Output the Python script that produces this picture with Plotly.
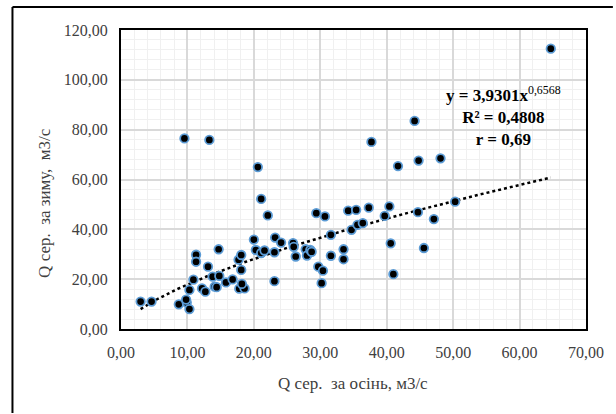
import numpy as np
import plotly.graph_objects as go

# Average discharge: autumn (x) vs winter (y), m3/s
q_autumn = [2.95, 4.6, 8.7, 9.9, 10.3, 9.8, 9.55, 13.3, 10.3, 10.9,
            11.3, 11.3, 12.2, 12.7, 13.1, 13.8, 14.8, 14.1, 14.4, 14.7,
            15.8, 16.8, 17.7, 18.1, 18.1, 17.8, 18.6, 18.2, 20.0, 20.3,
            20.6, 21.1, 21.1, 21.6, 22.1, 23.1, 23.1, 23.2, 24.1, 25.9,
            26.0, 26.3, 27.8, 28.0, 28.5, 28.7, 29.4, 29.7, 30.4, 30.2,
            30.7, 31.6, 31.6, 33.5, 33.5, 34.2, 34.7, 35.4, 35.6, 36.4,
            37.3, 37.7, 39.7, 40.4, 40.6, 41.0, 41.7, 44.2, 44.7, 44.8,
            45.6, 47.1, 48.1, 50.3, 64.7]
q_winter = [11.0, 11.0, 9.9, 10.6, 8.0, 11.8, 76.5, 75.9, 15.7, 19.8,
            29.8, 27.0, 16.3, 15.0, 25.0, 21.0, 21.3, 17.0, 16.8, 32.0,
            18.7, 19.9, 27.8, 29.7, 23.7, 16.2, 16.3, 18.1, 35.9, 31.7,
            65.0, 52.2, 30.5, 31.5, 45.6, 19.2, 30.8, 36.7, 34.7, 34.5,
            33.0, 29.1, 32.0, 29.5, 31.7, 31.0, 46.5, 25.0, 23.4, 18.4,
            45.2, 37.8, 29.4, 32.0, 28.0, 47.5, 39.8, 47.8, 41.8, 42.5,
            48.7, 75.1, 45.4, 49.2, 34.4, 22.0, 65.4, 83.5, 46.9, 67.6,
            32.5, 44.1, 68.5, 51.1, 112.5]

# Power trend y = a * x^b
coef_a = 3.9301
coef_b = 0.6568
r_squared = 0.4808
r_corr = 0.69

W, H = 616, 414
L, R, T, B = 121, 588, 30, 329  # plot area in pixels

def px_x(p):
    return (p - L) / (R - L)

def px_y(p):
    return (B - p) / (B - T)

fig = go.Figure()

trend_x = np.linspace(min(q_autumn), max(q_autumn), 200)
trend_y = coef_a * trend_x ** coef_b
fig.add_trace(go.Scatter(
    x=trend_x, y=trend_y, mode="lines",
    line=dict(color="black", width=2.5, dash="dot"),
    hoverinfo="skip", showlegend=False,
))

fig.add_trace(go.Scatter(
    x=q_autumn, y=q_winter, mode="markers",
    marker=dict(size=8.5, color="black",
                line=dict(color="#5b9bd5", width=1.8)),
    showlegend=False,
))

def fmt(v, d):
    return f"{v:.{d}f}".replace(".", ",")

eq_text = (f"<b>y = {fmt(coef_a, 4)}x</b><sup>{fmt(coef_b, 4)}</sup><br>"
           f"<b>R² = {fmt(r_squared, 4)}</b><br>"
           f"<b>r = {fmt(r_corr, 2)}</b>")

SERIF = "Times New Roman, Liberation Serif, DejaVu Serif, serif"
tick_font = dict(family=SERIF, size=16, color="#404040")
title_font = dict(family=SERIF, size=17, color="#404040")

fig.update_layout(
    width=W, height=H,
    margin=dict(l=L, r=W - R, t=T, b=H - B, pad=0),
    paper_bgcolor="white", plot_bgcolor="white",
    separators=", ",
    font=dict(family=SERIF),
    xaxis=dict(
        range=[0, 70], dtick=10, tickformat=".2f",
        showgrid=True, gridcolor="#d9d9d9", gridwidth=1.5,
        minor=dict(dtick=2, showgrid=True, gridcolor="#f0f0f0", gridwidth=1),
        showline=True, linecolor="black", linewidth=2, mirror=True,
        zeroline=False, ticks="", tickfont=tick_font, ticklabelstandoff=8,
    ),
    yaxis=dict(
        range=[0, 120], dtick=20, tickformat=".2f",
        showgrid=True, gridcolor="#d9d9d9", gridwidth=1.5,
        minor=dict(dtick=4, showgrid=True, gridcolor="#f0f0f0", gridwidth=1),
        showline=True, linecolor="black", linewidth=2, mirror=True,
        zeroline=False, ticks="", tickfont=tick_font, ticklabelstandoff=8,
    ),
    # chart-area border: only its left and top edges fall inside the page
    shapes=[
        dict(type="line", xref="paper", yref="paper",
             x0=px_x(12), y0=px_y(7), x1=px_x(12), y1=px_y(413),
             line=dict(color="black", width=2)),
        dict(type="line", xref="paper", yref="paper",
             x0=px_x(12), y0=px_y(7), x1=px_x(615), y1=px_y(7),
             line=dict(color="black", width=2)),
    ],
    annotations=[
        dict(text=eq_text, x=57.6, y=85.5, xref="x", yref="y",
             showarrow=False, align="center",
             font=dict(family=SERIF, size=17, color="black")),
        dict(text="Q сер.  за зиму,  м3/с", textangle=-90,
             x=px_x(32), y=px_y(203), xref="paper", yref="paper",
             showarrow=False, font=title_font),
        dict(text="Q сер.  за осінь, м3/с",
             x=px_x(354), y=px_y(395), xref="paper", yref="paper",
             showarrow=False, font=title_font),
    ],
)

fig.write_html("out.html")
